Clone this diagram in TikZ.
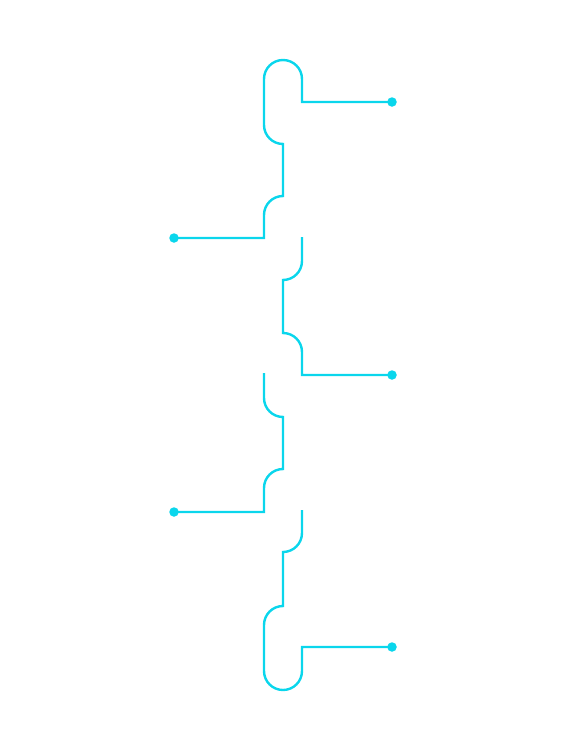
\documentclass[tikz,border=0pt]{standalone}
\definecolor{cyanline}{RGB}{10,214,236}
\begin{document}
\begin{tikzpicture}[x=1pt,y=1pt,
  wire/.style={draw=cyanline,line width=2.4pt,line join=miter},
  dotmark/.style={circle,fill=cyanline,inner sep=0pt,minimum size=9.5pt}]
\useasboundingbox (0,0) rectangle (585,-750);
% end dots
\node[dotmark] (d1) at (392,-102) {};
\node[dotmark] (d2) at (174,-238) {};
\node[dotmark] (d3) at (392,-375) {};
\node[dotmark] (d4) at (174,-512) {};
\node[dotmark] (d5) at (392,-647) {};
% segment 1
\draw[wire] (d2.center) -- (264,-238) -- (264,-215)
  arc[start angle=180,end angle=90,radius=19] -- (283,-144)
  arc[start angle=270,end angle=180,radius=19] -- (264,-79)
  arc[start angle=180,end angle=0,radius=19] -- (302,-102) -- (d1.center);
% segment 2
\draw[wire] (302,-237) -- (302,-261)
  arc[start angle=0,end angle=-90,radius=19] -- (283,-333)
  arc[start angle=90,end angle=0,radius=19] -- (302,-375) -- (d3.center);
% segment 3
\draw[wire] (264,-373) -- (264,-398)
  arc[start angle=180,end angle=270,radius=19] -- (283,-469)
  arc[start angle=90,end angle=180,radius=19] -- (264,-512) -- (d4.center);
% segment 4
\draw[wire] (302,-510) -- (302,-533)
  arc[start angle=0,end angle=-90,radius=19] -- (283,-606)
  arc[start angle=90,end angle=180,radius=19] -- (264,-671)
  arc[start angle=180,end angle=360,radius=19] -- (302,-647) -- (d5.center);
\end{tikzpicture}
\end{document}
